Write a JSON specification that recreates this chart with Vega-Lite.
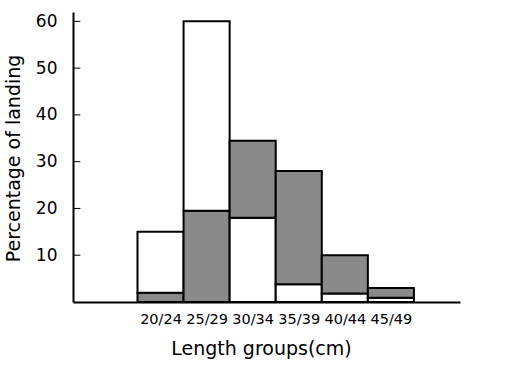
{
  "$schema": "https://vega.github.io/schema/vega-lite/v6.json",
  "width": 387,
  "height": 290,
  "autosize": "none",
  "padding": {"left": 73, "top": 12, "right": 47, "bottom": 67},
  "background": "white",
  "config": {"view": {"stroke": null}, "font": "DejaVu Sans"},
  "layer": [
    {
      "data": {
        "values": [
          {"group": "20/24", "lo": 20, "hi": 25, "part": "hatched", "from": 0, "to": 2},
          {"group": "20/24", "lo": 20, "hi": 25, "part": "plain", "from": 2, "to": 15},
          {"group": "25/29", "lo": 25, "hi": 30, "part": "hatched", "from": 0, "to": 19.5},
          {"group": "25/29", "lo": 25, "hi": 30, "part": "plain", "from": 19.5, "to": 60},
          {"group": "30/34", "lo": 30, "hi": 35, "part": "plain", "from": 0, "to": 18},
          {"group": "30/34", "lo": 30, "hi": 35, "part": "hatched", "from": 18, "to": 34.5},
          {"group": "35/39", "lo": 35, "hi": 40, "part": "plain", "from": 0, "to": 3.8},
          {"group": "35/39", "lo": 35, "hi": 40, "part": "hatched", "from": 3.8, "to": 28},
          {"group": "40/44", "lo": 40, "hi": 45, "part": "plain", "from": 0, "to": 1.8},
          {"group": "40/44", "lo": 40, "hi": 45, "part": "hatched", "from": 1.8, "to": 10},
          {"group": "45/49", "lo": 45, "hi": 50, "part": "plain", "from": 0, "to": 0.9},
          {"group": "45/49", "lo": 45, "hi": 50, "part": "hatched", "from": 0.9, "to": 3}
        ]
      },
      "mark": {"type": "bar", "stroke": "black", "strokeWidth": 2},
      "encoding": {
        "x": {
          "field": "lo", "type": "quantitative",
          "scale": {"domain": [13, 55], "nice": false, "zero": false},
          "axis": {
            "values": [22.5, 27.5, 32.5, 37.5, 42.5, 47.5],
            "labelExpr": "['20/24','25/29','30/34','35/39','40/44','45/49'][round((datum.value-22.5)/5)]",
            "ticks": false, "grid": false,
            "domainColor": "black", "domainWidth": 2,
            "labelColor": "black", "labelFontSize": 14.5, "labelPadding": 10,
            "title": "Length groups(cm)", "titleFontSize": 19, "titleFontWeight": "normal",
            "titleColor": "black", "titlePadding": 14, "titleX": 188
          }
        },
        "x2": {"field": "hi"},
        "y": {
          "field": "from", "type": "quantitative",
          "scale": {"domain": [0, 62], "nice": false},
          "axis": {
            "values": [10, 20, 30, 40, 50, 60],
            "ticks": false,
            "grid": false,
            "domainColor": "black", "domainWidth": 2,
            "labelColor": "black", "labelFontSize": 17, "labelPadding": 16,
            "title": "Percentage of landing", "titleFontSize": 19, "titleFontWeight": "normal",
            "titleColor": "black", "titlePadding": 12, "titleY": 146
          }
        },
        "y2": {"field": "to"},
        "fill": {
          "field": "part", "type": "nominal",
          "scale": {"domain": ["plain", "hatched"], "range": ["white", "#8a8a8a"]},
          "legend": null
        }
      }
    },
    {
      "data": {"values": [{"v": 10}, {"v": 20}, {"v": 30}, {"v": 40}, {"v": 50}, {"v": 60}]},
      "mark": {"type": "rule", "stroke": "black", "strokeWidth": 1},
      "encoding": {
        "y": {"field": "v", "type": "quantitative"},
        "x": {"datum": 13},
        "x2": {"datum": 13.8}
      }
    }
  ]
}
